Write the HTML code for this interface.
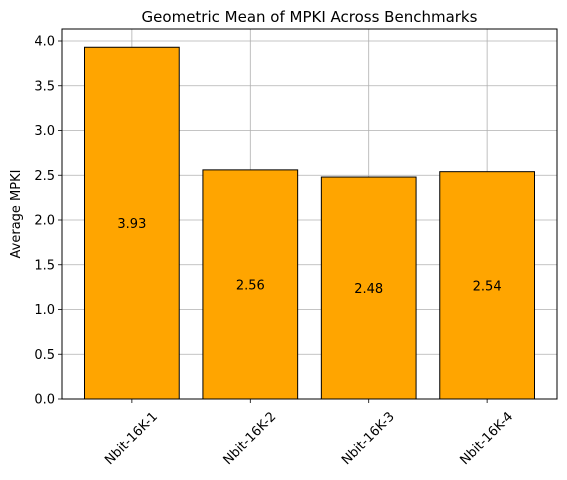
<!DOCTYPE html>
<html><head><meta charset="utf-8"><style>body{margin:0;background:#fff}svg{display:block;font-family:"DejaVu Sans","Liberation Sans",sans-serif}</style></head>
<body>
<svg id="chart" width="567" height="480"></svg>
<script>
const categories = ["Nbit-16K-1","Nbit-16K-2","Nbit-16K-3","Nbit-16K-4"];
const values = [3.93, 2.56, 2.48, 2.54];
const valueLabels = ["3.93","2.56","2.48","2.54"];
const yTicks = [0,0.5,1,1.5,2,2.5,3,3.5,4];
const yTickLabels = ["0.0","0.5","1.0","1.5","2.0","2.5","3.0","3.5","4.0"];

const L=62,R=557,T=29,B=399;
const xMin=-0.59,xMax=3.59;
const x=v=>L+(v-xMin)/(xMax-xMin)*(R-L);
const y=v=>B-v*89.5;
const NS="http://www.w3.org/2000/svg";
const svg=document.getElementById('chart');
function mk(tag,attrs,parent){const e=document.createElementNS(NS,tag);for(const k in attrs)e.setAttribute(k,attrs[k]);(parent||svg).appendChild(e);return e;}

// grid
yTicks.forEach((t,i)=>{
  const g=mk('line',{x1:L,x2:R,y1:y(t),y2:y(t),stroke:'#b0b0b0','stroke-width':0.8});
  
  
});
categories.forEach((c,i)=>{
  const g=mk('line',{x1:x(i),x2:x(i),y1:T,y2:B,stroke:'#b0b0b0','stroke-width':0.8});
  
  
});
// bars
categories.forEach((c,i)=>{
  const w=x(0.4)-x(-0.4);
  const b=mk('rect',{x:x(i-0.4),y:y(values[i]),width:w,height:B-y(values[i]),fill:'#ffa500',stroke:'#000','stroke-width':1});
  
  
  const t=mk('text',{x:x(i),y:y(values[i]/2)+5,'text-anchor':'middle','font-size':13,fill:'#000'});
  t.textContent=valueLabels[i];
  
  
});
// axes frame
const fr=mk('rect',{x:L,y:T,width:R-L,height:B-T,fill:'none',stroke:'#000','stroke-width':1});


// y ticks
yTicks.forEach((t,i)=>{
  mk('line',{x1:L-4,x2:L,y1:y(t),y2:y(t),stroke:'#000','stroke-width':0.8});
  const lb=mk('text',{x:L-7,y:y(t)+4.5,'text-anchor':'end','font-size':13});
  lb.textContent=yTickLabels[i];
  
  
});
// x ticks
categories.forEach((c,i)=>{
  mk('line',{x1:x(i),x2:x(i),y1:B,y2:B+4,stroke:'#000','stroke-width':0.8});
  const cx=x(i)-1,cy=438;
  const lb=mk('text',{x:cx,y:cy+4.5,'text-anchor':'middle','font-size':13,transform:`rotate(-45 ${cx} ${cy})`});
  lb.textContent=c;
  
  
});
const yt=mk('text',{x:20,y:(T+B)/2,'text-anchor':'middle','font-size':13,transform:`rotate(-90 20 ${(T+B)/2})`});
yt.textContent='Average MPKI';


const ti=mk('text',{x:(L+R)/2,y:22,'text-anchor':'middle','font-size':15});
ti.textContent='Geometric Mean of MPKI Across Benchmarks';


</script>
</body></html>
